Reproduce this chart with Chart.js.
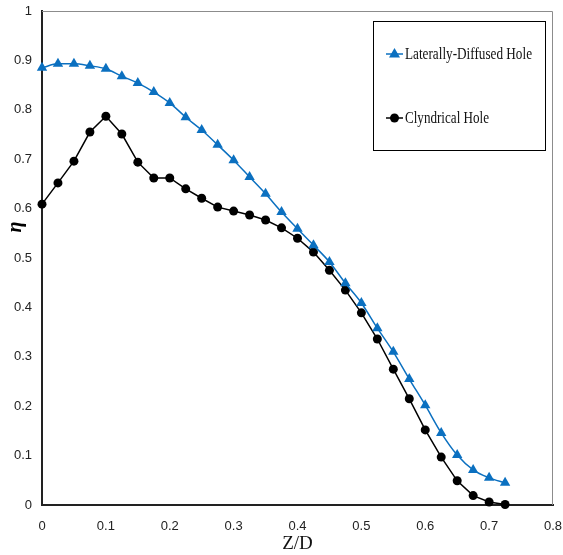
<!DOCTYPE html>
<html>
<head>
<meta charset="utf-8">
<title>Film cooling effectiveness</title>
<script src="https://cdn.jsdelivr.net/npm/chart.js"></script>
<style>
  html, body { margin: 0; padding: 0; background: #fff; }
  #wrap { width: 563px; height: 555px; }
</style>
</head>
<body>
<div id="wrap"><canvas id="etaChart" width="563" height="555"></canvas></div>
<script>
// Z/D stations
const zd = [0, 0.025, 0.05, 0.075, 0.1, 0.125, 0.15, 0.175, 0.2, 0.225, 0.25, 0.275, 0.3, 0.325, 0.35,
  0.375, 0.4, 0.425, 0.45, 0.475, 0.5, 0.525, 0.55, 0.575, 0.6, 0.625, 0.65, 0.675, 0.7, 0.725];

// laterally-diffused hole (blue triangles)
const lateralEta = [0.885, 0.893, 0.893, 0.889, 0.883, 0.868, 0.854, 0.836, 0.814, 0.785, 0.759, 0.729, 0.698, 0.664, 0.630,
  0.593, 0.559, 0.526, 0.492, 0.449, 0.409, 0.358, 0.310, 0.255, 0.202, 0.146, 0.101, 0.071, 0.055, 0.045];

// cylindrical hole (black circles)
const cylEta = [0.609, 0.652, 0.696, 0.755, 0.787, 0.751, 0.694, 0.662, 0.662, 0.640, 0.621, 0.603, 0.595, 0.587, 0.577,
  0.561, 0.540, 0.512, 0.475, 0.435, 0.389, 0.336, 0.275, 0.215, 0.152, 0.097, 0.049, 0.019, 0.006, 0.001];

const seriesNames = ['Laterally-Diffused Hole', 'Clyndrical Hole'];
const BLUE = '#0b70c0';
const tickFont = { family: "'Liberation Sans Narrow', 'Liberation Sans', sans-serif", size: 13 };

const pts = (ys) => ys.map((y, i) => ({ x: zd[i], y: y }));

// frame, eta label and the boxed legend
const extras = {
  id: 'extras',
  beforeDatasetsDraw(chart) {
    const { ctx, chartArea: a } = chart;
    ctx.save();
    ctx.strokeStyle = '#8c8c8c';
    ctx.lineWidth = 1;
    ctx.beginPath();
    ctx.moveTo(a.left, a.top + 0.5);
    ctx.lineTo(a.right - 0.5, a.top + 0.5);
    ctx.lineTo(a.right - 0.5, a.bottom);
    ctx.stroke();
    ctx.restore();
  },
  afterDraw(chart) {
    const { ctx } = chart;
    ctx.save();
    // eta label
    ctx.translate(16, 227);
    ctx.rotate(-Math.PI / 2);
    ctx.fillStyle = '#000';
    ctx.font = "italic bold 20px 'Liberation Serif', serif";
    ctx.textAlign = 'center';
    ctx.textBaseline = 'middle';
    ctx.fillText('\u03b7', 0, 0);
    ctx.restore();

    // legend box
    ctx.save();
    ctx.fillStyle = '#fff';
    ctx.fillRect(373.5, 21.5, 172, 129);
    ctx.strokeStyle = '#000';
    ctx.lineWidth = 1;
    ctx.strokeRect(373.5, 21.5, 172, 129);
    const rows = [
      { y: 54, color: BLUE, style: 'triangle', r: 6, w: 127 },
      { y: 118, color: '#000', style: 'circle', r: 4.5, w: 84 }
    ];
    rows.forEach((row, i) => {
      ctx.strokeStyle = row.color;
      ctx.lineWidth = 1.5;
      ctx.beginPath();
      ctx.moveTo(386, row.y);
      ctx.lineTo(403, row.y);
      ctx.stroke();
      ctx.fillStyle = row.color;
      ctx.beginPath();
      if (row.style === 'triangle') {
        ctx.moveTo(394.5, row.y - 6);
        ctx.lineTo(400, row.y + 3.5);
        ctx.lineTo(389, row.y + 3.5);
        ctx.closePath();
      } else {
        ctx.arc(394.5, row.y, row.r, 0, Math.PI * 2);
      }
      ctx.fill();
      ctx.fillStyle = '#111';
      ctx.font = "16px 'Liberation Serif', serif";
      ctx.textAlign = 'left';
      ctx.textBaseline = 'middle';
      ctx.fillText(seriesNames[i], 405, row.y + 1, row.w);
    });
    ctx.restore();
  }
};

new Chart(document.getElementById('etaChart'), {
  type: 'line',
  data: {
    datasets: [
      {
        label: seriesNames[0],
        data: pts(lateralEta),
        borderColor: BLUE,
        backgroundColor: BLUE,
        borderWidth: 1.5,
        pointStyle: 'triangle',
        pointRadius: 6,
        pointBorderWidth: 0,
        tension: 0.4,
        cubicInterpolationMode: 'monotone',
        clip: false
      },
      {
        label: seriesNames[1],
        data: pts(cylEta),
        borderColor: '#000',
        backgroundColor: '#000',
        borderWidth: 1.5,
        pointStyle: 'circle',
        pointRadius: 4.5,
        pointBorderWidth: 0,
        tension: 0,
        clip: false
      }
    ]
  },
  options: {
    responsive: false,
    animation: false,
    layout: { padding: { top: 11, right: 10, left: 0, bottom: 0 } },
    plugins: { legend: { display: false }, tooltip: { enabled: false } },
    scales: {
      x: {
        type: 'linear',
        min: 0,
        max: 0.8,
        grid: { display: false, drawTicks: false },
        border: { display: true, color: '#222', width: 2 },
        ticks: { stepSize: 0.1, padding: 14, color: '#222', font: tickFont,
          callback: (v) => +v.toFixed(1) + '' },
        title: { display: true, text: 'Z/D', color: '#111', padding: { top: 0, bottom: 0 },
          font: { family: "'Liberation Serif', serif", size: 19 } },
        afterFit: (s) => { s.height = 50; s.paddingLeft = 0; s.paddingRight = 0; }
      },
      y: {
        min: 0,
        max: 1,
        grid: { display: false, drawTicks: false },
        border: { display: true, color: '#222', width: 2 },
        ticks: { stepSize: 0.1, padding: 10, color: '#222', font: tickFont,
          callback: (v) => +v.toFixed(1) + '' },
        afterFit: (s) => { s.width = 42; s.paddingTop = 0; s.paddingBottom = 0; }
      }
    }
  },
  plugins: [extras]
});
</script>
</body>
</html>
